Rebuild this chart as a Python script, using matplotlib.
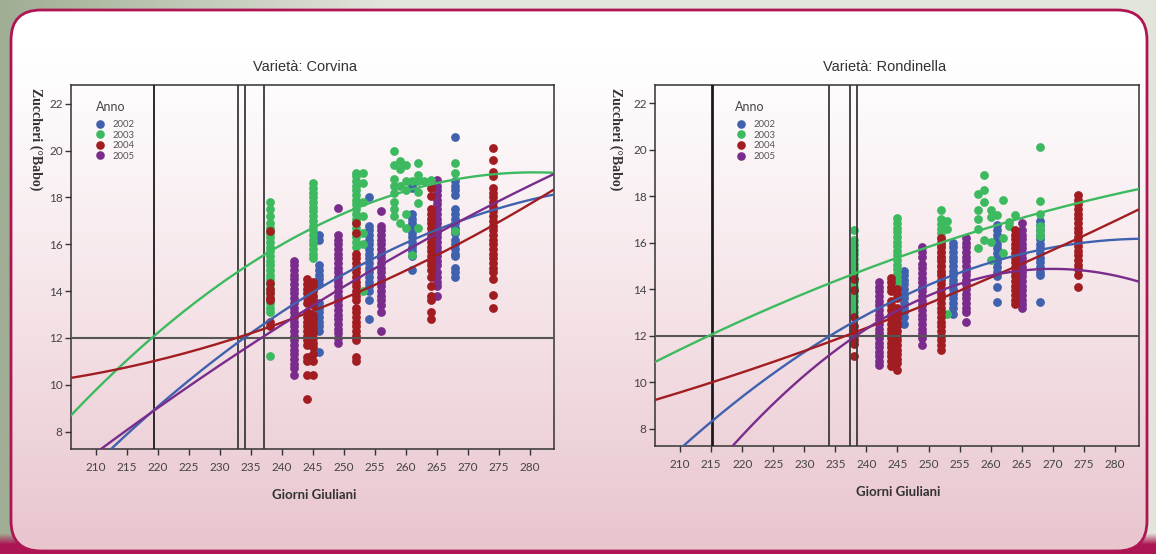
import numpy as np
import matplotlib
matplotlib.use("Agg")
import matplotlib.pyplot as plt
from matplotlib.lines import Line2D
from matplotlib.patches import FancyBboxPatch

# ---------------------------------------------------------------- data
years = ["2002", "2003", "2004", "2005"]
colors = ["#4061AE", "#3DBA5F", "#A11D22", "#7A2C8C"]

# Corvina: sugar readings (°Babo) per sampling day (Julian day)
corvina_2002 = {
    246: [16.4, 16.2, 15.1, 14.9, 14.7, 14.5, 14.3, 13.5, 13.3, 13.1, 12.9, 12.7, 12.5, 12.3, 11.4],
    254: [18.0, 16.8, 16.6, 16.4, 16.2, 16.0, 15.8, 15.6, 15.4, 15.2, 15.0, 14.8, 14.6, 14.4, 14.2,
          14.0, 13.6, 12.8],
    261: [18.5, 18.4, 17.3, 17.1, 16.9, 16.7, 16.5, 16.3, 16.1, 15.9, 15.7, 15.5, 14.9],
    268: [20.6, 18.7, 18.5, 18.3, 18.1, 17.5, 17.3, 17.1, 16.9, 16.7, 16.5, 16.2, 16.0, 15.8, 15.6,
          15.5, 15.0, 14.8, 14.6],
}
corvina_2003 = {
    238: [17.8, 17.5, 17.2, 16.9, 16.7, 16.5, 16.3, 16.1, 15.9, 15.7, 15.5, 15.3, 15.1, 14.9, 14.7,
          14.5, 14.3, 14.1, 13.9, 13.7, 13.5, 13.3, 13.1, 11.25],
    245: [18.6, 18.4, 18.2, 18.0, 17.8, 17.6, 17.4, 17.2, 17.0, 16.8, 16.6, 16.4, 16.2, 16.0, 15.8,
          15.6, 15.4, 13.8],
    252: [19.05, 18.9, 18.7, 18.5, 18.3, 18.1, 17.9, 17.7, 17.5, 17.3, 17.1, 16.9, 16.7, 16.5, 16.3,
          16.1, 15.9],
    253: [19.05, 18.6, 17.8, 17.2, 16.5, 16.0, 14.0],
    258: [20.0, 19.4, 18.8, 18.5, 18.2, 17.8, 17.5, 17.2],
    259: [19.55, 19.2, 18.5, 16.9],
    260: [19.4, 18.7, 18.3, 17.3, 16.7],
    261: [18.7, 15.55],
    262: [19.45, 18.95, 18.7, 18.25, 17.75, 16.7],
    263: [18.7],
    264: [18.75],
    268: [19.45, 19.05, 16.55],
}
corvina_2004 = {
    238: [16.55, 14.35, 14.1, 13.9, 13.7, 13.6, 12.7, 12.5],
    244: [14.5, 14.3, 14.1, 13.9, 13.7, 13.5, 13.1, 12.9, 12.7, 12.5, 12.3, 12.1, 11.9, 11.7, 11.2,
          11.0, 10.4, 9.4],
    245: [14.4, 14.2, 14.0, 13.8, 13.6, 13.4, 13.0, 12.8, 12.6, 12.4, 12.2, 12.0, 11.8, 11.6, 11.3,
          11.0, 10.4],
    252: [16.9, 16.5, 15.6, 15.4, 15.2, 15.0, 14.8, 14.6, 14.4, 14.2, 14.0, 13.8, 13.6, 13.3, 13.1,
          12.9, 12.7, 12.5, 12.3, 12.1, 11.9, 11.2, 11.0],
    264: [18.4, 18.05, 17.5, 17.3, 17.1, 16.9, 16.7, 16.5, 16.3, 16.1, 15.9, 15.7, 15.5, 15.3, 15.1,
          14.9, 14.6, 14.2, 13.8, 13.6, 13.1, 12.8],
    274: [20.1, 19.6, 19.1, 18.9, 18.4, 18.2, 18.0, 17.8, 17.6, 17.4, 17.2, 17.0, 16.8, 16.6, 16.4,
          16.2, 16.0, 15.8, 15.6, 15.4, 15.2, 15.0, 14.8, 14.5, 13.85, 13.3],
}
corvina_2005 = {
    242: [15.3, 15.1, 14.9, 14.7, 14.5, 14.3, 14.1, 13.9, 13.7, 13.5, 13.3, 13.1, 12.9, 12.7, 12.5,
          12.3, 12.1, 11.9, 11.7, 11.5, 11.3, 11.1, 10.9, 10.7, 10.4],
    249: [17.55, 16.4, 16.2, 16.0, 15.8, 15.6, 15.4, 15.2, 15.0, 14.8, 14.6, 14.4, 14.2, 14.0, 13.8,
          13.6, 13.4, 13.2, 13.0, 12.8, 12.6, 12.4, 12.2, 12.0, 11.8],
    256: [17.4, 16.8, 16.6, 16.4, 16.2, 16.0, 15.8, 15.6, 15.4, 15.2, 15.0, 14.8, 14.6, 14.4, 14.2,
          14.0, 13.8, 13.6, 13.4, 13.1, 12.3],
    265: [18.76, 18.5, 18.3, 18.1, 17.9, 17.7, 17.5, 17.3, 17.1, 16.9, 16.7, 16.5, 16.3, 16.1, 15.9,
          15.7, 15.5, 15.3, 15.1, 14.8, 14.6, 14.4, 14.2, 13.8],
}

# Rondinella
rondinella_2002 = {
    246: [14.8, 14.6, 14.4, 14.2, 14.0, 13.8, 13.6, 13.4, 13.2, 13.0, 12.8, 12.5],
    254: [16.0, 15.8, 15.6, 15.4, 15.2, 15.0, 14.8, 14.6, 14.4, 14.2, 14.0, 13.8, 13.6, 13.4, 13.2,
          12.95],
    261: [16.75, 16.55, 16.35, 16.15, 15.95, 15.75, 15.55, 15.35, 15.15, 14.95, 14.75, 14.55, 14.1,
          13.45],
    268: [16.95, 16.75, 16.55, 16.35, 16.15, 15.95, 15.75, 15.55, 15.35, 15.15, 14.95, 14.75, 14.6,
          13.45],
}
rondinella_2003 = {
    238: [16.55, 16.1, 15.9, 15.7, 15.5, 15.3, 15.1, 14.9, 14.7, 14.5, 14.3, 14.1, 13.9, 13.7, 13.5,
          13.25, 13.0],
    245: [17.05, 16.85, 16.65, 16.45, 16.25, 16.05, 15.85, 15.65, 15.45, 15.25, 15.05, 14.85, 14.65,
          14.45, 14.25, 13.95],
    252: [17.4, 17.0, 16.8, 16.6, 16.4, 16.2, 16.0, 15.8, 15.6, 15.4, 15.25, 15.0, 14.7],
    253: [16.95, 16.6, 12.95],
    258: [18.1, 17.4, 17.0, 16.6, 15.75],
    259: [18.9, 18.25, 17.75, 16.1],
    260: [17.4, 17.1, 16.05, 15.25],
    261: [17.2],
    262: [17.85, 16.2, 15.55],
    263: [16.9, 16.7],
    264: [17.2],
    268: [20.12, 17.8, 17.25, 16.7, 16.5, 16.3],
}
rondinella_2004 = {
    238: [14.45, 13.95, 12.8, 12.4, 12.2, 12.0, 11.8, 11.65, 11.1],
    244: [14.5, 14.3, 14.1, 13.9, 13.5, 13.3, 13.1, 12.9, 12.7, 12.5, 12.3, 12.1, 11.9, 11.7, 11.5,
          11.3, 11.1, 10.9, 10.7],
    245: [14.0, 13.8, 13.6, 13.2, 13.0, 12.8, 12.6, 12.4, 12.2, 12.0, 11.8, 11.6, 11.4, 11.2, 11.0,
          10.8, 10.5],
    252: [16.2, 16.0, 15.8, 15.6, 15.4, 15.2, 15.0, 14.8, 14.6, 14.4, 14.2, 14.0, 13.8, 13.6, 13.4,
          13.2, 13.0, 12.8, 12.6, 12.4, 12.2, 12.0, 11.8, 11.6, 11.37],
    264: [16.55, 16.35, 16.15, 15.95, 15.75, 15.55, 15.35, 15.15, 14.95, 14.75, 14.55, 14.35, 14.15,
          13.95, 13.75, 13.55, 13.38],
    274: [18.05, 17.85, 17.65, 17.45, 17.25, 17.05, 16.85, 16.65, 16.45, 16.25, 16.05, 15.85, 15.65,
          15.45, 15.25, 15.05, 14.85, 14.6, 14.1],
}
rondinella_2005 = {
    242: [14.3, 14.1, 13.9, 13.7, 13.5, 13.3, 13.1, 12.9, 12.7, 12.5, 12.3, 12.1, 11.9, 11.7, 11.5,
          11.3, 11.1, 10.9, 10.73],
    249: [15.8, 15.6, 15.4, 15.1, 14.9, 14.7, 14.5, 14.3, 14.1, 13.9, 13.7, 13.5, 13.3, 13.1, 12.9,
          12.7, 12.5, 12.3, 12.1, 11.9, 11.6],
    256: [16.2, 16.0, 15.8, 15.6, 15.4, 15.2, 15.0, 14.8, 14.6, 14.4, 14.2, 14.0, 13.8, 13.6, 13.4,
          13.2, 13.0, 12.6],
    265: [16.85, 16.55, 16.35, 16.15, 15.95, 15.75, 15.55, 15.35, 15.15, 14.95, 14.75, 14.55, 14.35,
          14.15, 13.95, 13.75, 13.55, 13.35, 13.2],
}

# Fitted ripening curves: (day, sugar)
corvina_fit_2002 = [(212.2, 7.23), (219.4, 8.9), (233.9, 12.04), (237.1, 12.57), (256.0, 15.56),
                    (276.7, 17.69), (283.8, 18.1)]
corvina_fit_2003 = [(206.0, 8.73), (219.4, 12.03), (233.9, 15.06), (237.1, 15.56), (256.0, 17.9),
                    (276.7, 19.04), (283.8, 19.06)]
corvina_fit_2004 = [(206.0, 10.32), (219.4, 10.97), (232.85, 12.03), (238.2, 12.5), (256.0, 14.4),
                    (276.7, 17.19), (283.8, 18.33)]
corvina_fit_2005 = [(210.85, 7.23), (219.4, 8.97), (233.9, 11.5), (237.1, 12.1), (256.0, 15.1),
                    (276.7, 18.07), (283.8, 19.0)]

rondinella_fit_2002 = [(210.5, 7.25), (215.0, 8.28), (234.2, 12.02), (259.2, 15.03), (271.7, 15.93),
                       (284.0, 16.15)]
rondinella_fit_2003 = [(206.0, 10.85), (215.0, 12.05), (234.2, 14.31), (259.2, 16.57), (275.3, 17.76),
                       (284.0, 18.35)]
rondinella_fit_2004 = [(206.0, 9.22), (215.0, 10.0), (234.2, 11.73), (260.8, 14.6), (275.3, 16.33),
                       (284.0, 17.45)]
rondinella_fit_2005 = [(218.5, 7.25), (234.2, 11.23), (259.2, 14.49), (271.7, 14.89), (284.0, 14.31)]

# Reference markers (Julian day thresholds and 12 °Babo)
corvina_days = [219.4, 232.95, 233.97, 237.08]
rondinella_days = [215.1, 233.9, 237.4, 238.5]
sugar_threshold = 12

x_ticks = list(range(210, 285, 5))
y_ticks = [8, 10, 12, 14, 16, 18, 20, 22]

# ---------------------------------------------------------------- figure
W, H = 1156, 554
fig = plt.figure(figsize=(W / 100, H / 100), dpi=100)

bg = fig.add_axes([0, 0, 1, 1])
bg.set_xlim(0, W)
bg.set_ylim(H, 0)
bg.axis("off")
bg.set_zorder(-5)

# outer page background: grey-green on the left, lighter to the right, crimson at the very foot
xx = np.linspace(0, 1, 200)[None, :]
yy = np.linspace(0, 1, 200)[:, None]
left_c = np.array([160, 174, 148]) / 255
right_c = np.array([226, 229, 220]) / 255
foot_c = np.array([172, 22, 82]) / 255
mix = np.clip(xx * 3.0, 0, 1)[..., None]
outer = left_c * (1 - mix) + right_c * mix
outer = np.broadcast_to(outer, (200, 200, 3)).copy()
foot = np.clip((yy - 0.965) / 0.02, 0, 1)[..., None]
outer = outer * (1 - foot) + foot_c * foot
bg.imshow(outer, extent=(0, W, H, 0), aspect="auto", interpolation="bilinear", zorder=0)

# rounded panel with a white-to-pink vertical gradient
panel = FancyBboxPatch((11, 10), 1136, 541, boxstyle="round,pad=0,rounding_size=30",
                       facecolor="none", edgecolor="#AE1552", linewidth=2.0, zorder=3)
bg.add_patch(panel)
t = np.linspace(0, 1, 256)[:, None]
top_c = np.array([255, 255, 255]) / 255
bot_c = np.array([233, 197, 206]) / 255
g = np.clip((t - 0.08) / 0.92, 0, 1) ** 1.1
grad = (top_c * (1 - g) + bot_c * g)[:, None, :].repeat(2, axis=1)
im = bg.imshow(grad, extent=(11, 1147, 551, 10), aspect="auto", interpolation="bilinear", zorder=2)
im.set_clip_path(panel)

TICK_FONT = "Lato"


def draw_panel(ax, series, fits, ref_days, title, title_x, ylabel_x, xlabel_x, xlabel_y,
               thick_first, anno_pos, legend_anchor):
    ax.set_facecolor("none")
    ax.set_xlim(205.95, 283.9)
    ax.set_ylim(7.26, 22.8)

    # reference lines
    for i, d in enumerate(ref_days):
        if i == 0:
            ax.axvline(d, color="#1a1a1a", lw=2.0 if thick_first else 1.3, zorder=6)
        else:
            ax.axvline(d, color="#3a3a3a", lw=1.3, zorder=6)
    ax.axhline(sugar_threshold, color="#555555", lw=1.5, zorder=6)

    # scatter: order so that red sits on top, blue at the bottom
    z_order = {0: 2, 3: 3, 1: 4, 2: 5}
    for k, (cols, c) in enumerate(zip(series, colors)):
        xs, ys = [], []
        for day, vals in cols.items():
            xs.extend([day] * len(vals))
            ys.extend(vals)
        ax.scatter(xs, ys, s=40, color=c, linewidths=0, zorder=z_order[k])

    # fitted curves
    grid = np.linspace(205.95, 283.9, 300)
    for pts, c in zip(fits, colors):
        px, py = np.array(pts).T
        coef = np.polyfit(px, py, 2)
        ax.plot(grid, np.polyval(coef, grid), color=c, lw=1.7, zorder=7)

    ax.set_xticks(x_ticks)
    ax.set_yticks(y_ticks)
    ax.tick_params(axis="x", length=4, width=1.0, color="#333333", pad=5.5,
                   labelsize=8.5, labelcolor="#444444")
    ax.tick_params(axis="y", length=4.5, width=1.0, color="#333333", pad=1.5,
                   labelsize=8.5, labelcolor="#444444")
    for lab in ax.get_xticklabels() + ax.get_yticklabels():
        lab.set_fontfamily(TICK_FONT)
    for sp in ax.spines.values():
        sp.set_color("#333333")
        sp.set_linewidth(1.1)

    # legend: title as its own text, entries below it
    ax.text(anno_pos[0], anno_pos[1], "Anno", transform=ax.transAxes, ha="left", va="center",
            fontsize=9, color="#444444", family=TICK_FONT, zorder=10)
    handles = [Line2D([], [], ls="none", marker="o", ms=6.2, mfc=c, mec="none", label=y)
               for y, c in zip(years, colors)]
    leg = ax.legend(handles=handles, loc="upper left", bbox_to_anchor=legend_anchor,
                    frameon=False, prop={"family": TICK_FONT, "size": 6.8},
                    borderpad=0, borderaxespad=0, handlelength=0.9, handletextpad=0.9,
                    labelspacing=0.17)
    for txt in leg.get_texts():
        txt.set_color("#555555")
    leg.set_zorder(10)

    fig.text(title_x / W, 1 - 67 / H, title, ha="center", va="center", fontsize=10.5,
             color="#333333", family="Liberation Sans")
    fig.text(ylabel_x / W, 1 - 88 / H, "Zuccheri (°Babo)", rotation=-90, ha="center", va="top",
             fontsize=10, fontweight="bold", color="#333333", family="Liberation Serif")
    fig.text(xlabel_x / W, 1 - xlabel_y / H, "Giorni Giuliani", ha="center", va="center",
             fontsize=9.5, fontweight="bold", color="#333333", family=TICK_FONT)


ax1 = fig.add_axes([71 / W, (H - 449) / H, 483 / W, 364 / H])
ax2 = fig.add_axes([655 / W, (H - 445.7) / H, 484 / W, 361 / H])

draw_panel(ax1, [corvina_2002, corvina_2003, corvina_2004, corvina_2005],
           [corvina_fit_2002, corvina_fit_2003, corvina_fit_2004, corvina_fit_2005],
           corvina_days, "Varietà: Corvina", 305, 36, 314.5, 495, False,
           (0.051, 0.940), (0.0512, 0.904))
draw_panel(ax2, [rondinella_2002, rondinella_2003, rondinella_2004, rondinella_2005],
           [rondinella_fit_2002, rondinella_fit_2003, rondinella_fit_2004, rondinella_fit_2005],
           rondinella_days, "Varietà: Rondinella", 885, 616, 898.5, 491.5, True,
           (0.165, 0.939), (0.168, 0.902))

fig.savefig("out.png", dpi=100)
